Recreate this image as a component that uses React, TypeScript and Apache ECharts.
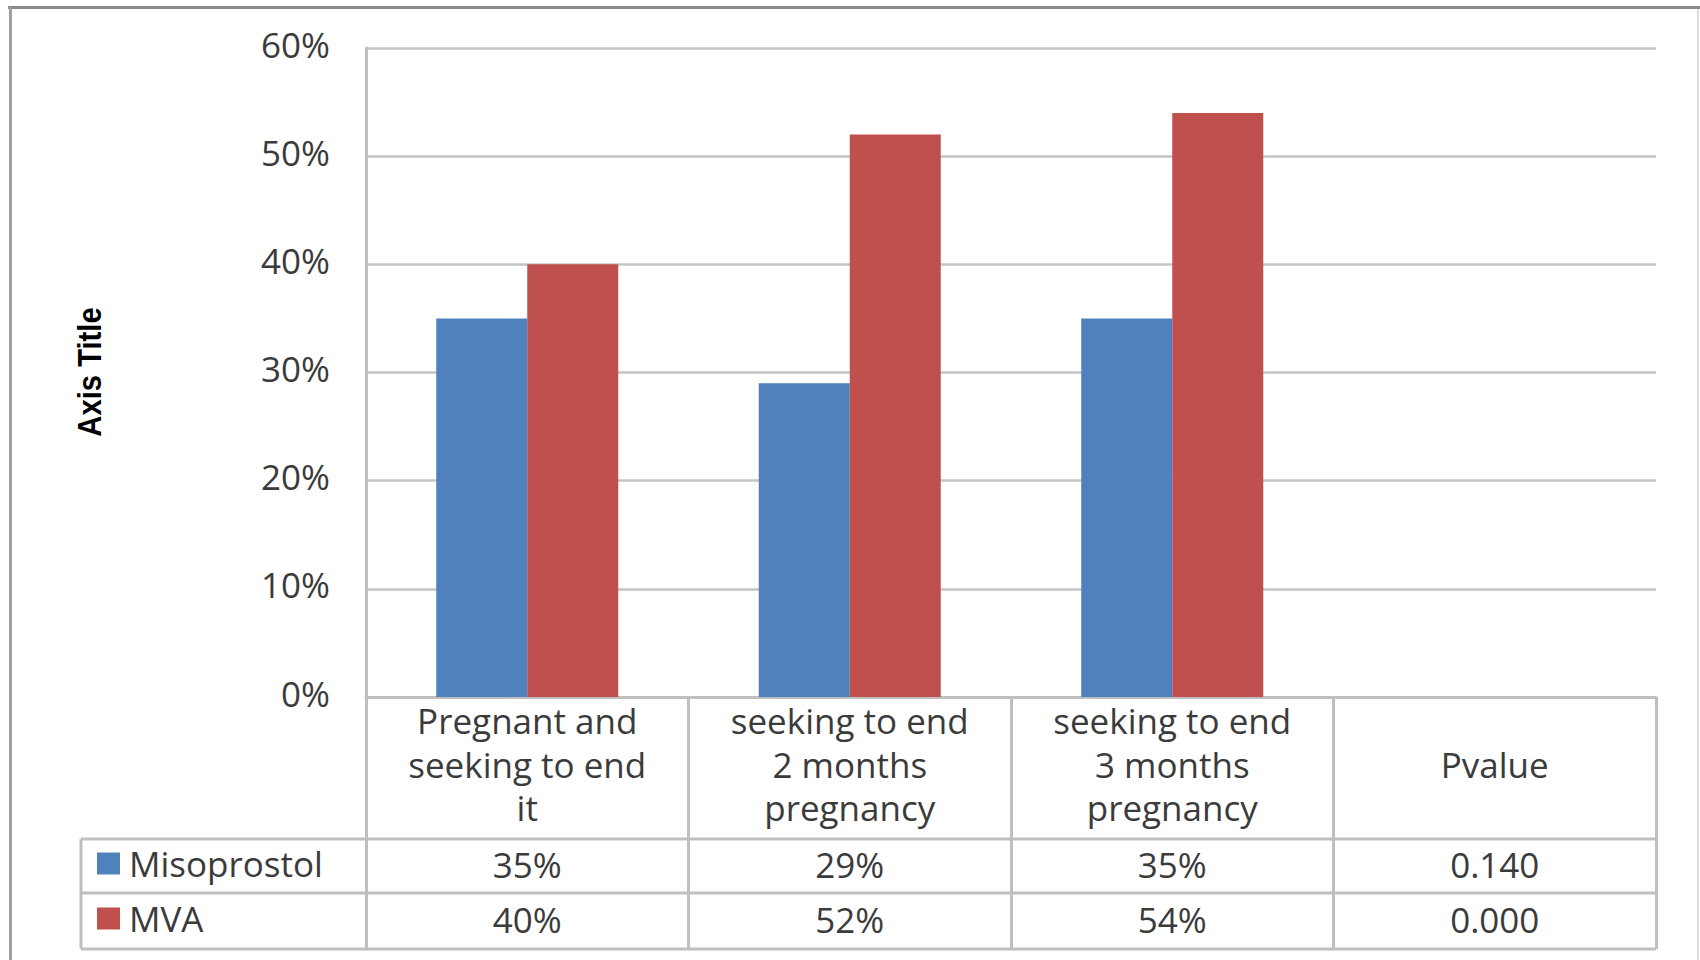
import React, { useEffect, useRef } from 'react';
import * as echarts from 'echarts';

const categories = [
  'Pregnant and\nseeking to end\nit',
  'seeking to end\n2 months\npregnancy',
  'seeking to end\n3 months\npregnancy',
  'Pvalue',
];
const seriesNames = ['Misoprostol', 'MVA'];
const misoprostol = [35, 29, 35];
const mva = [40, 52, 54];
const pValues = ['0.140', '0.000'];
const yMin = 0;
const yMax = 60;
const yInterval = 10;
const axisTitle = 'Axis Title';

const FONT = "'Open Sans', 'Noto Sans', sans-serif";
const TEXT = '#3b3b3b';
const LINE = '#bfbfbf';
const BLUE = '#4F81BD';
const RED = '#C0504D';

const W = 1700;
const H = 960;
const gridLeft = 366;
const gridRight = 1656;
const gridTop = 48;
const gridBottom = 697;
const tableLeft = 81;
const rowLines = [839, 893, 949];
const rowCenters = [866, 921];

const rowText = (vals: number[], p: string) => [...vals.map((v) => v + '%'), p];

export default function App() {
  const ref = useRef<HTMLDivElement>(null);
  useEffect(() => {
    document.body.style.margin = '0';
    if (!ref.current) return;
    const chart = echarts.init(ref.current, undefined, { renderer: 'svg' });
    const row1 = rowText(misoprostol, pValues[0]);
    const row2 = rowText(mva, pValues[1]);
    const labelBase = { fontFamily: FONT, fontSize: 35, color: TEXT };
    const tableLine = (x1: number, y1: number, x2: number, y2: number) => ({
      type: 'line',
      shape: { x1, y1, x2, y2 },
      style: { stroke: LINE, lineWidth: 3 },
      silent: true,
    });
    const legendFor = (name: string, center: number) => ({
      data: [name],
      orient: 'vertical',
      left: 97,
      top: center - 20,
      padding: 0,
      itemWidth: 23,
      itemHeight: 22,
      icon: 'rect',
      selectedMode: false,
      textStyle: { ...labelBase, padding: [0, 0, 0, 4] },
    });
    chart.setOption({
      animation: false,
      backgroundColor: '#ffffff',
      grid: {
        left: gridLeft,
        right: W - gridRight,
        top: gridTop,
        bottom: H - gridBottom,
        containLabel: false,
      },
      legend: [legendFor(seriesNames[0], rowCenters[0]), legendFor(seriesNames[1], rowCenters[1])],
      xAxis: [
        {
          type: 'category',
          data: categories,
          position: 'bottom',
          axisLine: { show: true, lineStyle: { color: LINE, width: 3 } },
          axisTick: { show: true, length: rowLines[2] - gridBottom, lineStyle: { color: LINE, width: 3 } },
          splitLine: { show: false },
          axisLabel: {
            ...labelBase,
            interval: 0,
            margin: 2,
            lineHeight: 43.5,
            formatter: (v: string) => (v === 'Pvalue' ? '\nPvalue\n' : v),
          },
        },
        {
          type: 'category',
          data: categories,
          position: 'bottom',
          axisLine: { show: false },
          axisTick: { show: false },
          axisLabel: {
            ...labelBase,
            interval: 0,
            margin: rowCenters[0] - gridBottom - 2,
            verticalAlign: 'middle',
            formatter: (_v: string, i: number) => row1[i],
          },
        },
        {
          type: 'category',
          data: categories,
          position: 'bottom',
          axisLine: { show: false },
          axisTick: { show: false },
          axisLabel: {
            ...labelBase,
            interval: 0,
            margin: rowCenters[1] - gridBottom - 2,
            verticalAlign: 'middle',
            formatter: (_v: string, i: number) => row2[i],
          },
        },
      ],
      yAxis: {
        type: 'value',
        min: yMin,
        max: yMax,
        interval: yInterval,
        axisLine: { show: true, lineStyle: { color: LINE, width: 3 } },
        axisTick: { show: false },
        splitLine: { show: true, lineStyle: { color: '#c4c4c4', width: 2.5 } },
        axisLabel: {
          ...labelBase,
          margin: 36,
          verticalAlign: 'bottom',
          lineHeight: 8,
          formatter: '{value}%',
        },
      },
      series: [
        {
          name: seriesNames[0],
          type: 'bar',
          xAxisIndex: 0,
          data: [...misoprostol, null],
          barWidth: 91,
          barGap: '0%',
          itemStyle: { color: BLUE },
        },
        {
          name: seriesNames[1],
          type: 'bar',
          xAxisIndex: 0,
          data: [...mva, null],
          barWidth: 91,
          barGap: '0%',
          itemStyle: { color: RED },
        },
      ],
      graphic: [
        tableLine(tableLeft, rowLines[0], gridRight, rowLines[0]),
        tableLine(tableLeft, rowLines[1], gridRight, rowLines[1]),
        tableLine(tableLeft, rowLines[2], gridRight, rowLines[2]),
        tableLine(tableLeft, rowLines[0], tableLeft, rowLines[2]),
        {
          type: 'line',
          shape: { x1: 8, y1: 7.5, x2: W, y2: 7.5 },
          style: { stroke: '#8a8a8a', lineWidth: 3 },
          silent: true,
        },
        {
          type: 'line',
          shape: { x1: 10.5, y1: 7, x2: 10.5, y2: H },
          style: { stroke: '#a0a0a0', lineWidth: 3 },
          silent: true,
        },
        {
          type: 'line',
          shape: { x1: 1698, y1: 9, x2: 1698, y2: H },
          style: { stroke: '#dcdcdc', lineWidth: 2 },
          silent: true,
        },
        {
          type: 'text',
          x: 89,
          y: 372,
          rotation: Math.PI / 2,
          scaleX: 0.86,
          silent: true,
          style: {
            text: axisTitle,
            font: "bold 34px 'Liberation Sans', Arial, sans-serif",
            fill: '#000000',
            align: 'center',
            verticalAlign: 'middle',
            textAlign: 'center',
            textVerticalAlign: 'middle',
          },
        },
      ],
    });
    return () => chart.dispose();
  }, []);
  return (
    <div
      ref={ref}
      style={{ position: 'absolute', left: 0, top: 0, width: W, height: H, background: '#fff' }}
    />
  );
}
